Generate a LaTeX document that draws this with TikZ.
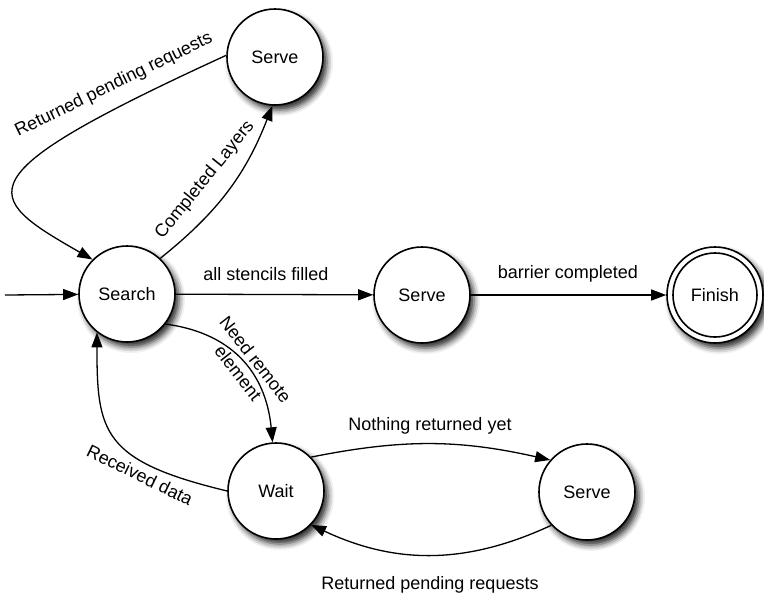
\documentclass[tikz,border=0pt]{standalone}
\usepackage{fontspec}
\setmainfont{Liberation Sans}
\usetikzlibrary{arrows.meta,shadows.blur}
\begin{document}
\begin{tikzpicture}[x=1pt,y=-1pt,
  state/.style={circle,draw,line width=1.6pt,fill=white,minimum size=96pt,inner sep=0pt,
    font=\fontsize{18}{22}\selectfont,
    blur shadow={shadow xshift=4pt,shadow yshift=-5pt,shadow blur radius=6pt,shadow opacity=85}},
  inner/.style={circle,draw,line width=1.6pt,minimum size=84pt,inner sep=0pt,font=\fontsize{18}{22}\selectfont},
  edge/.style={line width=1.3pt,-{Triangle[length=15pt,width=11pt]}},
  lbl/.style={font=\fontsize{18}{22}\selectfont,inner sep=0pt,align=center}]
\useasboundingbox (0,0) rectangle (764,598);
\node[state] (search) at (127,294) {Search};
\node[state] (serveA) at (275,57) {Serve};
\node[state] (serveB) at (422,295) {Serve};
\node[state] (finish) at (715,295) {};
\node[inner] (finishIn) at (715,295) {Finish};
\node[state] (wait) at (276,491) {Wait};
\node[state] (serveC) at (587,492) {Serve};
\coordinate (start) at (5,295);

\draw[edge] (start) -- (search);
\draw[edge] (search) -- (serveB);
\draw[edge] (serveB) -- (finish);
\draw[edge] (search.47) to[bend right=15] (serveA.267);
\draw[edge] (serveA.178) .. controls +(-266,122) and +(-112,-64) .. (search.135);
\draw[edge] (search.-38) .. controls +(74,10) and +(-6,-62) .. (wait.94);
\draw[edge] (wait.180) .. controls +(-125,-30) and +(0,100) .. (search.-128);
\draw[edge] (wait.44) to[bend left=12] (serveC.139);
\draw[edge] (serveC.223) to[bend left=25] (wait.-44);

\node[lbl] (l1) at (266,274) {all stencils filled};
\node[lbl] (l2) at (568,274) {barrier completed};
\node[lbl,rotate=26] (l3) at (114,85) {Returned pending requests};
\node[lbl,rotate=51] (l4) at (205,180) {Completed Layers};
\node[lbl,rotate=-52] (l5) at (247,366) {Need remote\\element};
\node[lbl,rotate=-26] (l6) at (140,475) {Received data};
\node[lbl] (l7) at (430,426) {Nothing returned yet};
\node[lbl] (l8) at (430,585) {Returned pending requests};
\end{tikzpicture}
\end{document}
